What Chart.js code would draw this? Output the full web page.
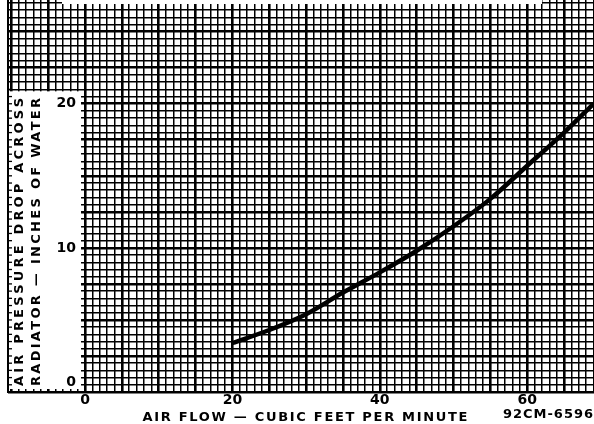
<!DOCTYPE html>
<html>
<head>
<meta charset="utf-8">
<script src="https://cdn.jsdelivr.net/npm/chart.js@4.4.1/dist/chart.umd.min.js"></script>
<style>
  html, body { margin: 0; padding: 0; background: #fff; }
  #wrap { width: 594px; height: 424px; }
</style>
</head>
<body>
<div id="wrap"><canvas id="chart" width="594" height="424"></canvas></div>
<script>
// Data
const airFlow = [20, 25, 30, 35, 40, 45, 50, 55, 60, 65, 69];
const pressureDrop = [3.4, 4.3, 5.4, 6.9, 8.3, 9.8, 11.5, 13.4, 15.7, 18.0, 20.0];
const xTickLabels = [0, 20, 40, 60];
const yTickLabels = [0, 10, 20];
const xTitle = 'AIR FLOW \u2014 CUBIC FEET PER MINUTE';
const yTitle = ['AIR PRESSURE DROP ACROSS', 'RADIATOR \u2014 INCHES OF WATER'];
const drawingNo = '92CM-6596';

const points = airFlow.map((x, i) => ({ x: x, y: pressureDrop[i] }));

// draw text stretched to a given width (letter spaced lettering)
function fitText(ctx, text, x, y, width) {
    ctx.letterSpacing = '0px';
    const w = ctx.measureText(text).width;
    const sp = (width - w) / (text.length - 1);
    ctx.letterSpacing = sp + 'px';
    ctx.textAlign = 'left';
    ctx.fillText(text, x - width / 2, y);
    ctx.letterSpacing = '0px';
}

// graph paper: heavy line every 5 cells
function gridWidth(ctx, step) {
    const v = ctx.tick ? ctx.tick.value : 0;
    const r = v / step;
    return Math.abs(r - Math.round(r)) < 1e-6 ? 2.6 : 1.5;
}

const paperPlugin = {
    id: 'paper',
    afterDraw(chart) {
        const ctx = chart.ctx;
        const xs = chart.scales.x;
        const ys = chart.scales.y;
        const x0 = xs.getPixelForValue(0);
        ctx.save();

        // scan gap at the top
        ctx.fillStyle = '#fff';
        ctx.fillRect(62, 0, 480, 4);

        // white label panel on the left
        const top = ys.getPixelForValue(21) + 2;
        const bottom = ys.getPixelForValue(0) - 3;
        ctx.fillRect(9, top, x0 - 4 - 9, bottom - top);

        // left edge with tick stubs
        ctx.strokeStyle = '#000';
        ctx.lineWidth = 2;
        ctx.beginPath();
        ctx.moveTo(8, 0);
        ctx.lineTo(8, ys.getPixelForValue(0) + 1);
        ctx.stroke();
        ctx.lineWidth = 1.3;
        ys.ticks.forEach(t => {
            if (t.value <= 21) {
                const py = ys.getPixelForValue(t.value);
                ctx.beginPath();
                ctx.moveTo(8, py);
                ctx.lineTo(12, py);
                ctx.stroke();
            }
        });

        ctx.fillStyle = '#000';
        ctx.textBaseline = 'middle';

        // y tick labels
        ctx.font = 'bold 14px "DejaVu Sans"';
        ctx.textAlign = 'right';
        yTickLabels.forEach(v => {
            let py = ys.getPixelForValue(v);
            if (v === 0) py -= 10;
            ctx.fillText(String(v), x0 - 9, py);
        });

        // x tick labels
        ctx.textAlign = 'center';
        xTickLabels.forEach(v => {
            ctx.fillText(String(v), xs.getPixelForValue(v), 400);
        });

        // axis titles
        ctx.font = 'bold 13px "DejaVu Sans"';
        fitText(ctx, xTitle, 305, 418, 325);
        fitText(ctx, drawingNo, 548, 415, 90);

        const cy = 242;
        [20, 37].forEach((cx, i) => {
            ctx.save();
            ctx.translate(cx, cy);
            ctx.rotate(-Math.PI / 2);
            fitText(ctx, yTitle[i], 0, 0, 288);
            ctx.restore();
        });

        ctx.restore();
    }
};

new Chart(document.getElementById('chart'), {
    type: 'scatter',
    data: {
        datasets: [{
            data: points,
            showLine: true,
            borderColor: '#000',
            borderWidth: 4.5,
            pointRadius: 0,
            cubicInterpolationMode: 'monotone',
            fill: false
        }]
    },
    options: {
        responsive: false,
        animation: false,
        layout: { padding: { left: 8, right: 0, top: 0, bottom: 32 } },
        plugins: { legend: { display: false }, tooltip: { enabled: false } },
        scales: {
            x: {
                type: 'linear',
                min: -10.45,
                max: 69.06,
                afterBuildTicks: scale => {
                    const t = [];
                    for (let v = Math.ceil(scale.min); v <= scale.max; v++) t.push({ value: v });
                    scale.ticks = t;
                },
                ticks: { display: false },
                border: { display: false },
                grid: {
                    color: '#000',
                    drawTicks: false,
                    lineWidth: c => gridWidth(c, 5)
                }
            },
            y: {
                type: 'linear',
                min: 0,
                max: 27.2,
                afterBuildTicks: scale => {
                    const t = [];
                    for (let v = 0; v <= scale.max; v += 0.5) t.push({ value: v });
                    scale.ticks = t;
                },
                ticks: { display: false },
                border: { display: false },
                grid: {
                    color: '#000',
                    drawTicks: false,
                    lineWidth: c => gridWidth(c, 2.5)
                }
            }
        }
    },
    plugins: [paperPlugin]
});
</script>
</body>
</html>
